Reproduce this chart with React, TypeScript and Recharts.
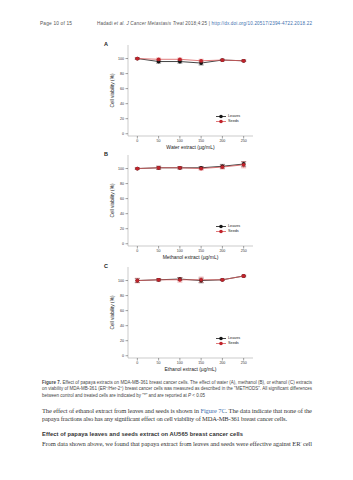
import React from 'react';
import { LineChart, Line, XAxis, YAxis, ErrorBar, Legend } from 'recharts';

// concentrations (µg/mL)
const doses = [0, 50, 100, 150, 200, 250];
const yTicks = [0, 20, 40, 60, 80, 100];

// water extract (A)
const waterLeaves = [100, 96, 96, 94, 98, 97];
const waterLeavesErr = [1, 2, 2, 2.5, 1, 1];
const waterSeeds = [100, 99, 99, 97, 98, 97];
const waterSeedsErr = [1, 1.5, 1.5, 2, 1, 1];

// methanol extract (B)
const methLeaves = [100, 101, 101, 101, 103, 106];
const methLeavesErr = [1, 2, 1.5, 1.5, 2.5, 3];
const methSeeds = [100, 101, 101, 100, 102, 105];
const methSeedsErr = [1, 2, 1.5, 2, 2.5, 4];

// ethanol extract (C)
const ethLeaves = [100, 101, 102, 100, 101, 106];
const ethLeavesErr = [2.5, 1.5, 2, 3, 1, 1];
const ethSeeds = [100, 101, 101, 101, 101, 106];
const ethSeedsErr = [3, 1.5, 3, 3.5, 1, 1];

const seriesNames = ['Leaves', 'Seeds'];

const LEAF = '#151515';
const SEED_LINE = '#d8595a';
const SEED_DOT = '#c0232b';
const BOX = '#b4b4b4';
const LINK = '#3d6fae';
const SANS = '"Liberation Sans", Arial, sans-serif';
const SERIF = '"Liberation Serif", "Times New Roman", serif';

interface PanelProps {
  letter: string;
  title: string;
  top: number;
  leaves: number[];
  leavesErr: number[];
  seeds: number[];
  seedsErr: number[];
}

const LegendBox = () => (
  <div style={{ fontFamily: SANS, fontSize: 3.8, color: '#222' }}>
    {seriesNames.map((name, i) => (
      <div key={name} style={{ display: 'flex', alignItems: 'center', height: 5 }}>
        <svg width={11} height={5}>
          <line x1={0} y1={2.5} x2={10} y2={2.5} stroke={i === 0 ? LEAF : SEED_LINE} strokeWidth={0.8} />
          <circle cx={5} cy={2.5} r={1.8} fill={i === 0 ? LEAF : SEED_DOT} />
        </svg>
        <span style={{ marginLeft: 1 }}>{name}</span>
      </div>
    ))}
  </div>
);

const Panel: React.FC<PanelProps> = ({ letter, title, top, leaves, leavesErr, seeds, seedsErr }) => {
  const data = doses.map((d, i) => ({
    x: d,
    leaves: leaves[i],
    leavesErr: leavesErr[i],
    seeds: seeds[i],
    seedsErr: seedsErr[i],
  }));

  const tickStyle = { fontSize: 3.6, fill: '#333', fontFamily: SANS };

  return (
    <div style={{ position: 'absolute', left: 80, top: top - 8, width: 200, height: 115 }}>
      <div style={{ position: 'absolute', left: 24, top: 4, fontFamily: SANS, fontWeight: 'bold', fontSize: 5.5, color: '#222' }}>
        {letter}
      </div>
      <LineChart width={200} height={115} data={data} margin={{ top: 8, right: 27, bottom: 4, left: 28 }}>
        <XAxis
          type="number"
          dataKey="x"
          domain={[-22, 272]}
          ticks={doses}
          tick={tickStyle}
          tickSize={2.5}
          tickMargin={0.5}
          height={12}
          tickLine={{ stroke: '#444', strokeWidth: 0.5 }}
          axisLine={{ stroke: BOX, strokeWidth: 0.7 }}
          label={{ value: title, position: 'bottom', offset: -3, style: { fontSize: 5, fill: '#222', fontFamily: SANS } }}
        />
        <XAxis xAxisId="top" orientation="top" type="number" domain={[-22, 272]} tick={false} tickLine={false} height={0} axisLine={{ stroke: BOX, strokeWidth: 0.7 }} />
        <YAxis
          type="number"
          domain={[-3, 118]}
          ticks={yTicks}
          tick={tickStyle}
          tickSize={2.5}
          tickMargin={1.5}
          width={20}
          tickLine={{ stroke: '#444', strokeWidth: 0.5 }}
          axisLine={{ stroke: BOX, strokeWidth: 0.7 }}
          label={(props: any) => {
            const vb = props.viewBox || {};
            const cx = (vb.x || 0) + 4;
            const cy = (vb.y || 0) + (vb.height || 0) / 2;
            return (
              <text x={cx} y={cy} transform={`rotate(-90, ${cx}, ${cy})`} textAnchor="middle" dominantBaseline="central" fontSize={4.8} fill="#222" fontFamily={SANS}>
                Cell viability (%)
              </text>
            );
          }}
        />
        <YAxis yAxisId="right" orientation="right" type="number" domain={[-3, 118]} tick={false} tickLine={false} width={0} axisLine={{ stroke: BOX, strokeWidth: 0.7 }} />
        <Legend
          layout="vertical"
          align="center"
          verticalAlign="middle"
          content={() => <LegendBox />}
          wrapperStyle={{ left: 136, top: 76.5, width: 30 }}
        />
        <Line dataKey="leaves" name="Leaves" stroke={LEAF} strokeWidth={0.8} dot={{ r: 1.9, fill: LEAF, stroke: 'none' }} isAnimationActive={false}>
          <ErrorBar dataKey="leavesErr" width={2.5} stroke={LEAF} strokeWidth={0.5} direction="y" />
        </Line>
        <Line dataKey="seeds" name="Seeds" stroke={SEED_LINE} strokeWidth={0.8} dot={{ r: 1.9, fill: SEED_DOT, stroke: 'none' }} isAnimationActive={false}>
          <ErrorBar dataKey="seedsErr" width={2.5} stroke={SEED_LINE} strokeWidth={0.5} direction="y" />
        </Line>
      </LineChart>
    </div>
  );
};

const sup = (s: string) => (
  <tspan baselineShift="super" fontSize={3}>{s}</tspan>
);

export default function App() {
  return (
    <div style={{ position: 'absolute', left: 0, top: 0, width: 353, height: 480, background: '#fff', overflow: 'hidden' }}>
      <svg width={353} height={480} style={{ position: 'absolute', left: 0, top: 0 }}>
        {/* running header */}
        <text x={40} y={24.5} fontFamily={SANS} fontSize={4.8} fill="#555" textLength={32} lengthAdjust="spacing">
          Page 10 of 15
        </text>
        <text x={97} y={24.5} fontFamily={SANS} fontSize={4.6} fill="#555" textLength={215} lengthAdjust="spacing">
          Hadadi <tspan fontStyle="italic">et al. J Cancer Metastasis Treat</tspan> 2018;4:25 | <tspan fill={LINK}>http://dx.doi.org/10.20517/2394-4722.2018.22</tspan>
        </text>

        {/* figure caption */}
        <g fontFamily={SANS} fontSize={4.5} fill="#444">
          <text x={42} y={383.5} textLength={270} lengthAdjust="spacing">
            <tspan fontWeight="bold">Figure 7.</tspan> Effect of papaya extracts on MDA-MB-361 breast cancer cells. The effect of water (A), methanol (B), or ethanol (C) extracts
          </text>
          <text x={42} y={390.2} textLength={270} lengthAdjust="spacing">
            on viability of MDA-MB-361 (ER{sup('+')}/Her-2{sup('+')}) breast cancer cells was measured as described in the "METHODS". All significant differences
          </text>
          <text x={42} y={396.9}>
            between control and treated cells are indicated by "*" and are reported at <tspan fontStyle="italic">P</tspan> &lt; 0.05
          </text>
        </g>

        {/* body text */}
        <g fontFamily={SERIF} fontSize={6.5} fill="#333">
          <text x={42} y={413} textLength={270} lengthAdjust="spacing">
            The effect of ethanol extract from leaves and seeds is shown in <tspan fill={LINK}>Figure 7C</tspan>. The data indicate that none of the
          </text>
          <text x={42} y={421.2} textLength={245} lengthAdjust="spacing">
            papaya fractions also has any significant effect on cell viability of MDA-MB-361 breast cancer cells.
          </text>
          <text x={42} y={445.5} textLength={270} lengthAdjust="spacing">
            From data shown above, we found that papaya extract from leaves and seeds were effective against ER{sup('-')} cell
          </text>
        </g>
        <text x={42} y={436.2} fontFamily={SANS} fontWeight="bold" fontSize={5.8} fill="#333" textLength={201} lengthAdjust="spacing">
          Effect of papaya leaves and seeds extract on AU565 breast cancer cells
        </text>
      </svg>

      <Panel letter="A" title="Water extract (µg/mL)" top={45} leaves={waterLeaves} leavesErr={waterLeavesErr} seeds={waterSeeds} seedsErr={waterSeedsErr} />
      <Panel letter="B" title="Methanol extract (µg/mL)" top={155} leaves={methLeaves} leavesErr={methLeavesErr} seeds={methSeeds} seedsErr={methSeedsErr} />
      <Panel letter="C" title="Ethanol extract (µg/mL)" top={267} leaves={ethLeaves} leavesErr={ethLeavesErr} seeds={ethSeeds} seedsErr={ethSeedsErr} />
    </div>
  );
}
